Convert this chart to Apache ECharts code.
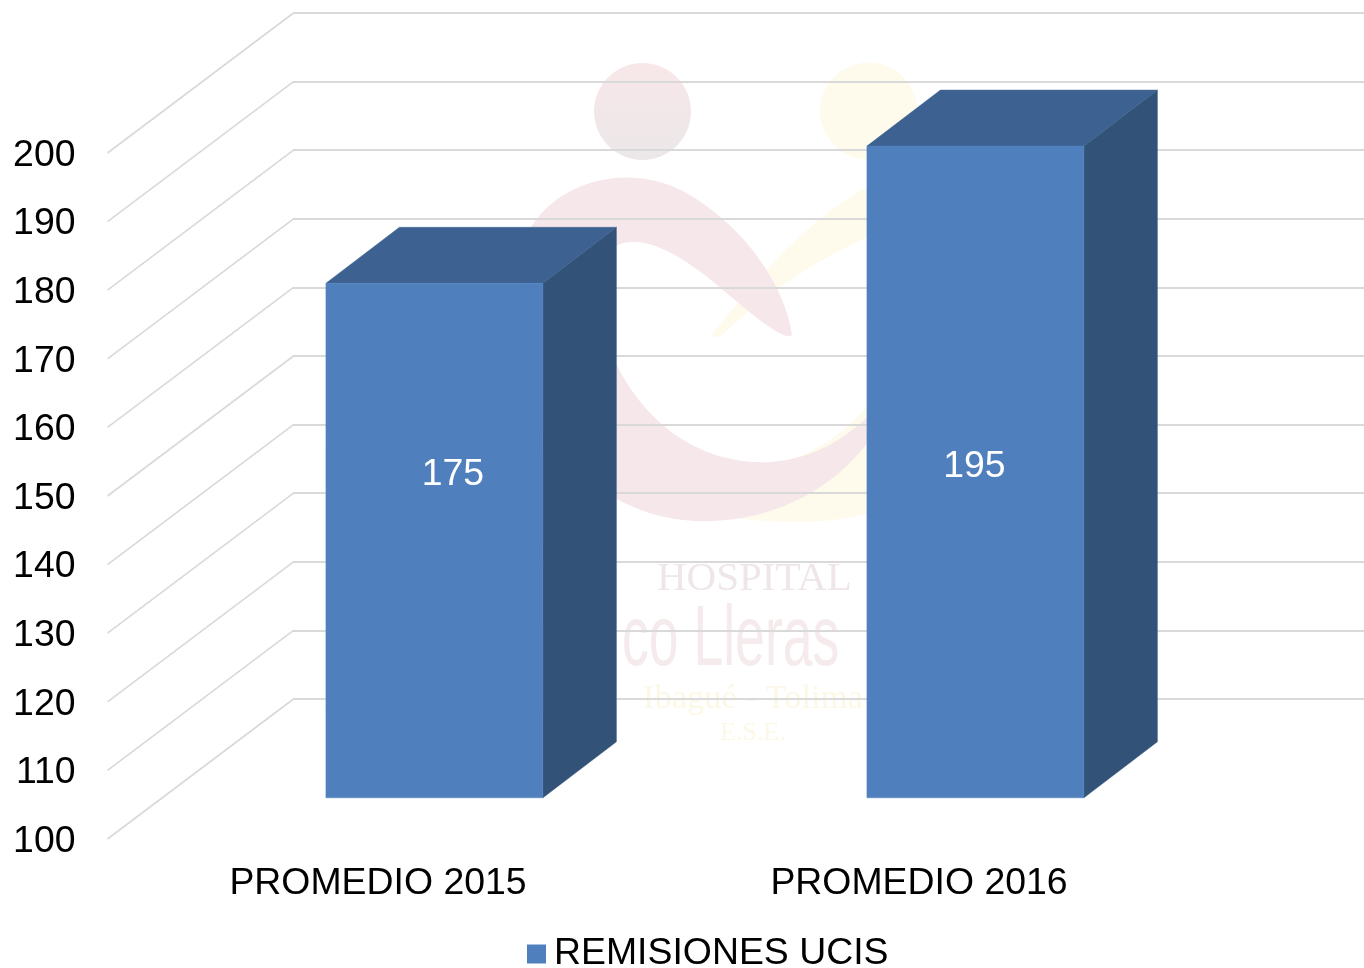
<!DOCTYPE html>
<html><head><meta charset="utf-8">
<style>html,body{margin:0;padding:0;background:#fff}#c{width:1364px;height:968px}</style>
<script src="https://cdn.jsdelivr.net/npm/echarts@6/dist/echarts.min.js"></script>
</head><body><div id="c"></div>
<script>
const categories = ['PROMEDIO 2015', 'PROMEDIO 2016'];
const remisiones = [175, 195];
const seriesName = 'REMISIONES UCIS';
const yTicks = [100, 110, 120, 130, 140, 150, 160, 170, 180, 190, 200];

const FONT = '"Liberation Sans", Arial, sans-serif';
const SERIF = '"Liberation Serif", serif';
const C = {front: '#4f80bd', top: '#3d6291', side: '#325278', grid: '#d9d9d9', text: '#000'};
const LABEL_DROP = 2.5;                     // tick labels sit a little below the wall lines
const WALL = {dx: 186, dy: 140};            // front plane -> back wall
const BAR = {dx: 56.4, dy: 41.2 + LABEL_DROP, depthX: 73.5, depthY: 56, ratio: 0.401};
const LABEL_NUDGE = [{x: 18.5, y: 191.7}, {x: -1, y: 320.2}];

const chart = echarts.init(document.getElementById('c'), null, {renderer: 'canvas'});

echarts.graphic.registerShape('logoYellow', echarts.graphic.extendPath(
  'M712 335 C755 280 810 215 880 180 L950 180 L950 450 C920 500 880 520 800 522 C760 522 730 518 700 512 L760 470 C800 460 840 440 868 405 L950 400 L950 230 L868 237 C810 262 760 300 722 335 C718 338 714 338 712 335 Z', {}));
echarts.graphic.registerShape('logoPink', echarts.graphic.extendPath(
  'M792 335 C788 340 770 330 735 300 C695 265 660 240 630 242 C585 245 590 320 625 380 C660 438 715 465 770 462 C820 458 850 435 880 405 L880 425 C840 490 770 524 695 521 C630 518 570 480 540 420 C505 345 500 260 540 215 C575 175 640 165 690 195 C745 228 785 285 792 335 Z', {}));

function poly(points, fill, z2) {
  return {type: 'polygon', z2, shape: {points}, style: {fill, stroke: fill, lineWidth: 0.5}};
}
function renderBar(params, api) {
  const i = api.value(0), v = api.value(1);
  const w = api.size([1, 0])[0] * BAR.ratio;
  const base = api.coord([i, yTicks[0]]), tip = api.coord([i, v]);
  const l = base[0] + BAR.dx - w / 2, r = l + w;
  const b = base[1] - BAR.dy, t = tip[1] - BAR.dy;
  const dx = BAR.depthX, dy = BAR.depthY;
  const n = LABEL_NUDGE[i];
  return {type: 'group', children: [
    poly([[r, b], [r + dx, b - dy], [r + dx, t - dy], [r, t]], C.side, 1),
    poly([[l, t], [r, t], [r + dx, t - dy], [l + dx, t - dy]], C.top, 1),
    poly([[l, b], [r, b], [r, t], [l, t]], C.front, 2),
    {type: 'text', z2: 3, style: {
      x: (l + r) / 2 + n.x, y: t + n.y, text: String(v), fill: '#fff',
      font: '37.4px ' + FONT, align: 'center', verticalAlign: 'middle'}}
  ]};
}
function renderDiagonal(params, api) {
  const x = params.coordSys.x, y = api.coord([0, api.value(1)])[1] - LABEL_DROP;
  return {type: 'line', shape: {x1: x, y1: y, x2: x + WALL.dx, y2: y - WALL.dy},
    style: {stroke: C.grid, lineWidth: 1.6, fill: null}};
}

const pink = '#f6e8ea', yellow = '#fefbec';
const logo = [
  {type: 'circle', z: -1, silent: true, shape: {cx: 868.5, cy: 111, r: 48.5}, style: {fill: yellow}},
  {type: 'logoYellow', z: -1, silent: true, style: {fill: yellow}},
  {type: 'circle', z: -1, silent: true, shape: {cx: 642.5, cy: 111.5, r: 48.5}, style: {
    fill: {type: 'linear', x: 0, y: 0, x2: 0, y2: 1, colorStops: [
      {offset: 0, color: '#f8e7e9'}, {offset: 1, color: '#ebe7e8'}]}}},
  {type: 'logoPink', z: -1, silent: true, style: {fill: pink}},
  {type: 'text', z: -1, silent: true, style: {x: 657, y: 579, text: 'HOSPITAL', font: '41px ' + SERIF, fill: '#efe6e8', verticalAlign: 'middle'}},
  {type: 'text', z: -1, silent: true, x: 622, y: 642, scaleX: 0.63, style: {x: 0, y: 0, text: 'co Lleras', font: '85px ' + FONT, fill: '#f5ebec', verticalAlign: 'middle'}},
  {type: 'text', z: -1, silent: true, style: {x: 643, y: 699, text: 'Ibagué - Tolima', font: '34.5px ' + SERIF, fill: '#fcf8e6', verticalAlign: 'middle'}},
  {type: 'text', z: -1, silent: true, style: {x: 720, y: 733, text: 'E.S.E.', font: '26px ' + SERIF, fill: '#fcf8e6', verticalAlign: 'middle'}}
];

chart.setOption({
  animation: false,
  backgroundColor: '#fff',
  textStyle: {fontFamily: FONT},
  graphic: {elements: logo},
  legend: {
    show: true, left: 522, top: 930, itemWidth: 19, itemHeight: 19, itemGap: 0,
    icon: 'rect', selectedMode: false,
    textStyle: {fontSize: 37.4, color: C.text, fontFamily: FONT, lineHeight: 38, padding: [0, 0, 0, 3]},
    data: [seriesName]
  },
  grid: [
    {left: 293, top: 13, width: 1071, height: 686},
    {left: 107.5, top: 153 + LABEL_DROP, width: 1082, height: 686}
  ],
  xAxis: [
    {gridIndex: 0, type: 'category', show: false, data: categories},
    {gridIndex: 1, type: 'category', data: categories,
      axisLine: {show: false}, axisTick: {show: false}, splitLine: {show: false},
      axisLabel: {fontSize: 37.4, color: C.text, fontFamily: FONT, margin: 26 - LABEL_DROP}}
  ],
  yAxis: [
    {gridIndex: 0, type: 'value', min: 100, max: 200, interval: 10,
      axisLine: {show: false}, axisTick: {show: false}, axisLabel: {show: false},
      splitLine: {show: true, lineStyle: {color: C.grid, width: 2}}},
    {gridIndex: 1, type: 'value', min: 100, max: 200, interval: 10,
      axisLine: {show: false}, axisTick: {show: false}, splitLine: {show: false},
      axisLabel: {fontSize: 37.4, color: C.text, fontFamily: FONT, margin: 32}}
  ],
  series: [
    {type: 'custom', name: 'walls', xAxisIndex: 1, yAxisIndex: 1, silent: true, z: 1,
      renderItem: renderDiagonal, encode: {x: 0, y: 1},
      data: yTicks.map(v => [0, v])},
    {type: 'custom', name: seriesName, xAxisIndex: 1, yAxisIndex: 1, z: 3,
      itemStyle: {color: C.front},
      renderItem: renderBar, encode: {x: 0, y: 1},
      data: remisiones.map((v, i) => [i, v])}
  ]
});
</script></body></html>
